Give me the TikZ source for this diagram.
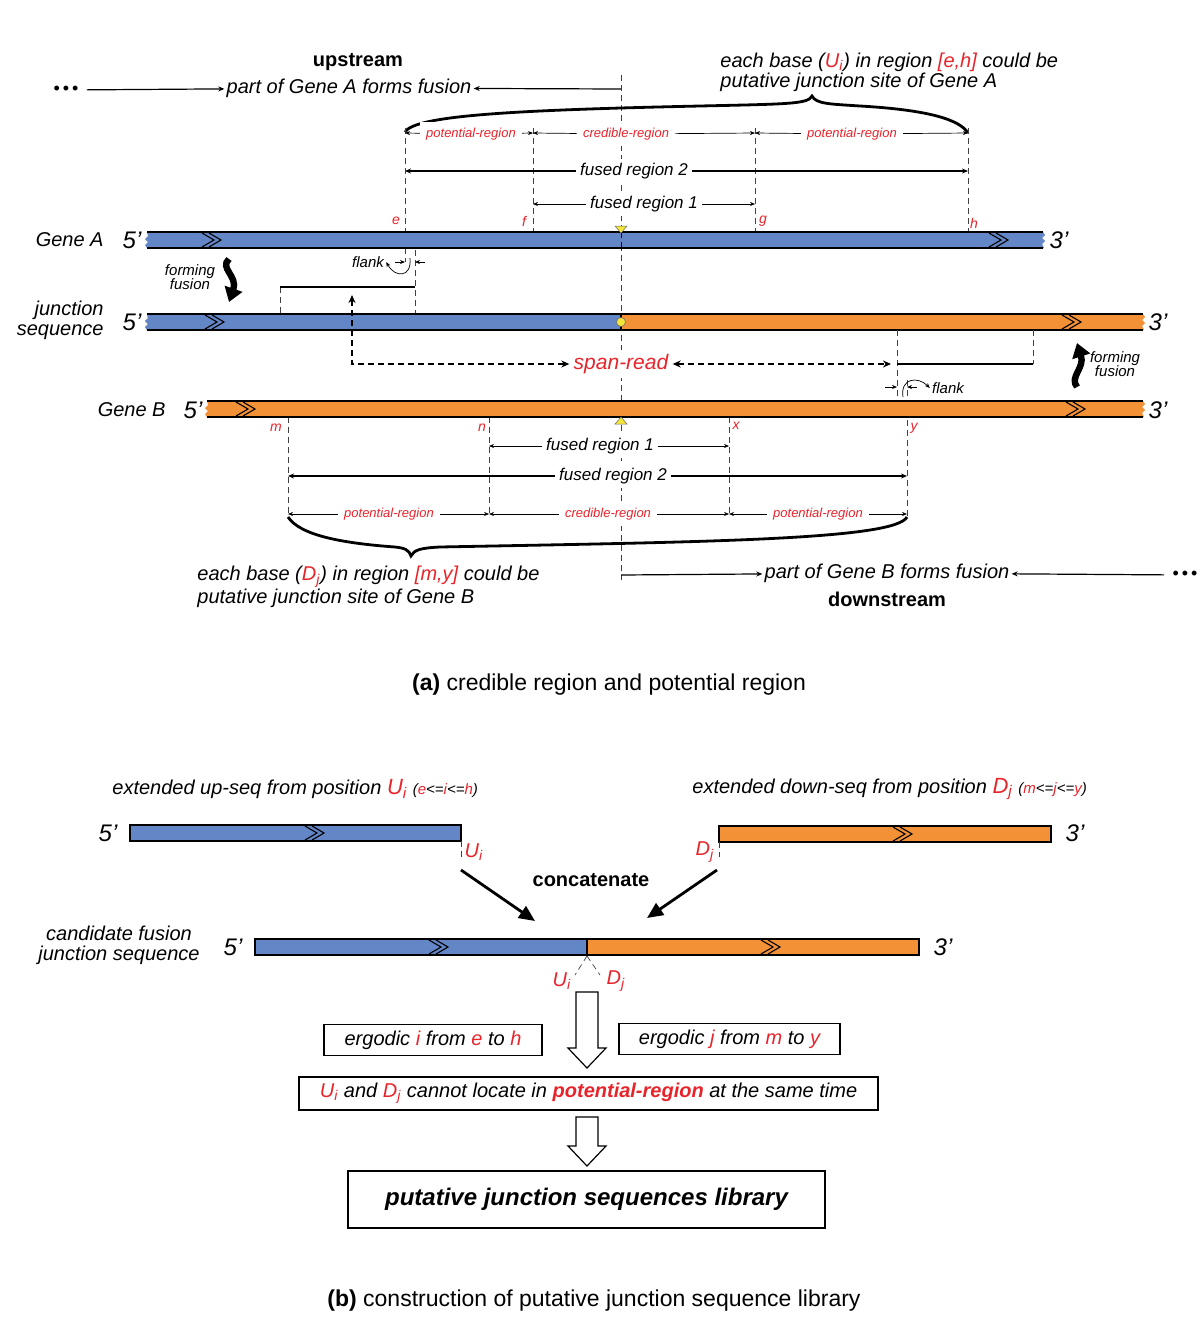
\documentclass[tikz,border=0pt]{standalone}
\usepackage{fontspec}
\setmainfont{Liberation Sans}
\usetikzlibrary{arrows.meta,positioning}
\definecolor{geneA}{HTML}{6386C6}
\definecolor{geneB}{HTML}{F39137}
\definecolor{hot}{HTML}{E8242B}
\definecolor{siteyel}{HTML}{F4E53A}
\tikzset{>=Stealth}
\tikzset{
  txt/.style={font=\fontsize{10}{10}\selectfont\itshape, inner sep=1pt},
  boldtxt/.style={font=\fontsize{10}{10}\selectfont\bfseries, inner sep=1pt},
  captxt/.style={font=\fontsize{11.5}{12}\selectfont},
  endtxt/.style={font=\fontsize{12}{12}\selectfont\itshape, inner sep=0pt},
  smalltxt/.style={font=\fontsize{7.5}{7}\selectfont\itshape, inner sep=1pt, align=center},
  redtag/.style={font=\fontsize{7}{7}\selectfont\itshape, text=hot, inner sep=0pt},
  regtag/.style={font=\fontsize{6.5}{7}\selectfont\itshape, text=hot, fill=white, inner sep=3pt},
  fusetxt/.style={font=\fontsize{8.5}{9}\selectfont\itshape, fill=white, inner sep=2pt},
  spantxt/.style={font=\fontsize{10.5}{11}\selectfont\itshape, text=hot, fill=white, inner sep=2pt},
  dots/.style={font=\fontsize{9}{9}\selectfont, inner sep=4pt},
  guide/.style={dash pattern=on 3pt off 2pt, line width=0.35pt, black!75},
  dimarr/.style={-{Stealth[length=2.5pt,width=2pt]}, line width=0.35pt},
  fusearr/.style={-{Stealth[length=3pt,width=2.5pt]}, line width=0.7pt},
  textarr/.style={-{Stealth[length=3pt,width=2.5pt]}, line width=0.6pt},
  spanarr/.style={dash pattern=on 3pt off 2pt, line width=0.9pt,
    {Stealth[length=4pt,width=3.5pt]}-{Stealth[length=4pt,width=3.5pt]}},
  readbar/.style={line width=1.4pt},
  curly/.style={line width=1.4pt},
  hookarr/.style={-{Stealth[length=2.5pt,width=2pt]}, line width=0.35pt},
  formarr/.style={line width=3.2pt, -{Triangle[length=7pt,width=9pt]}},
  joinarr/.style={line width=1.4pt, -{Triangle[length=8pt,width=7pt]}},
  sitemark/.style={fill=siteyel, draw=black!60, line width=0.25pt},
  seqbox/.style={draw, line width=0.75pt, font=\fontsize{10}{10}\selectfont\itshape,
    inner sep=0pt, minimum height=15.5pt},
}
% gene bar: left, right, centre y, colour
\newcommand{\barfill}[4]{%
  \fill[#4] (#1,#3-8) -- (#2,#3-8) -- (#2+2,#3-5) -- (#2-1,#3-2) -- (#2+2,#3+1)
    -- (#2-1,#3+4) -- (#2+1,#3+8) -- (#1,#3+8) -- (#1-2,#3+5) -- (#1+1,#3+2)
    -- (#1-2,#3-1) -- (#1+1,#3-4) -- cycle;}
\newcommand{\barrims}[3]{\draw[line width=0.8pt] (#1,#3-8) -- (#2,#3-8) (#1,#3+8) -- (#2,#3+8);}
\newcommand{\chev}[2]{\draw[line width=0.55pt] (#1,#2-7) -- (#1+12,#2) -- (#1,#2+7)
  (#1+7,#2-7) -- (#1+19,#2) -- (#1+7,#2+7);}
\newcommand{\hollowdown}[3]{\draw[line width=0.6pt, fill=white] (#1-11,#2) -- (#1+11,#2)
  -- (#1+11,#3-20) -- (#1+19,#3-20) -- (#1,#3) -- (#1-19,#3-20) -- (#1-11,#3-20) -- cycle;}

\begin{document}
\begin{tikzpicture}[x=0.5pt,y=-0.5pt]
\useasboundingbox (0,0) rectangle (1200,1318);

%% (a) ---------------------------------------------------------------
% centre line first, labels sit on it
\draw[guide] (621,75) -- (621,580);

\node[boldtxt] (up) at (358,62) {upstream};
\node[dots] (dotsA) at (66,90) {•\,•\,•};
\node[txt] (partA) at (349,88) {part of Gene A forms fusion};
\coordinate (midtop) at (621,89);
\draw[textarr] (dotsA) -- (partA);
\draw[textarr] (midtop) -- (partA);

\node[txt, align=left, anchor=west] (baseA) at (718,72)
  {each base (\textcolor{hot}{U\textsubscript{i}}) in region \textcolor{hot}{[e,h]} could be\\putative junction site of Gene A};
\draw[curly] (405,132) .. controls (415,115) and (520,110) .. (700,106)
  .. controls (790,104) and (808,104) .. (812,96)
  .. controls (816,104) and (830,104) .. (860,106)
  .. controls (930,110) and (960,120) .. (968,133);

% guides gene A
\foreach \x/\ya/\yb in {405/128/262, 533/128/232, 755/128/232, 968/128/232, 415/250/315, 280/287/315}
  \draw[guide] (\x,\ya) -- (\x,\yb);
\foreach \n/\x in {e/405,f/533,g/755,h/968} {
  \coordinate (\n1) at (\x,133);
  \coordinate (\n2) at (\x,171);
  \coordinate (\n3) at (\x,204);
}
\node[regtag] (potA1) at (471,134) {potential-region};
\node[regtag] (creA) at (626,134) {credible-region};
\node[regtag] (potA2) at (852,134) {potential-region};
\draw[dimarr] (potA1) -- (e1);
\draw[dimarr] (potA1) -- (f1);
\draw[dimarr] (creA) -- (f1);
\draw[dimarr] (creA) -- (g1);
\draw[dimarr] (potA2) -- (g1);
\draw[dimarr] (potA2) -- (h1);
\node[fusetxt] (fr2A) at (634,171) {fused region 2};
\draw[fusearr] (fr2A) -- (e2);
\draw[fusearr] (fr2A) -- (h2);
\node[fusetxt] (fr1A) at (644,204) {fused region 1};
\draw[dimarr] (fr1A) -- (f3);
\draw[dimarr] (fr1A) -- (g3);
\node[redtag] (le) at (396,221) {e};
\node[redtag] (lf) at (524,221) {f};
\node[redtag] (lg) at (763,221) {g};
\node[redtag] (lh) at (974,223) {h};

% Gene A
\barfill{147}{1043}{240}{geneA}
\barrims{147}{1043}{240}
\draw[guide, black] (621,232) -- (621,248);
\chev{202}{240}
\chev{989}{240}
\node[txt, anchor=east] (genA) at (106,240) {Gene A};
\node[endtxt] (a5) at (132,240) {5’};
\node[endtxt] (a3) at (1059,240) {3’};

% flank (gene A side)
\coordinate (fl1) at (405,262);
\coordinate (fl2) at (415,262);
\draw[dimarr] ([xshift=-5pt]fl1) -- (fl1);
\draw[dimarr] ([xshift=5pt]fl2) -- (fl2);
\node[smalltxt] (flankA) at (368,262) {flank};
\draw[hookarr] (410,258) .. controls (412,278) and (395,278) .. (flankA.east);
\node[smalltxt] (formA) at (190,277) {forming\\fusion};
\draw[formarr] (229,259) .. controls (219,268) and (238,276) .. (229,302);

% read on gene A
\coordinate (rdL) at (280,287);
\coordinate (rdR) at (415,287);
\draw[readbar] (rdL) -- (rdR);

% junction sequence
\node[txt, anchor=east, align=right] (junc) at (106,320) {junction\\sequence};
\barfill{147}{1143}{322}{geneB}
\begin{scope}
  \clip (130,300) rectangle (621,345);
  \barfill{147}{1143}{322}{geneA}
\end{scope}
\barrims{147}{1143}{322}
\draw[line width=0.8pt] (621,314) -- (621,330);
\chev{205}{322}
\chev{1062}{322}
\node[endtxt] (j5) at (132,322) {5’};
\node[endtxt] (j3) at (1158,322) {3’};

% span read
\foreach \x/\ya/\yb in {897/330/400, 1033/330/364, 907/380/518, 288/417/518, 489/417/514, 729/417/514}
  \draw[guide] (\x,\ya) -- (\x,\yb);
\node[spantxt] (span) at (621,364) {span-read};
\coordinate (spLtop) at (352,295);
\coordinate (spL) at (352,364);
\coordinate (spR) at (891,364);
\draw[spanarr] (spLtop) -- (spL) -- (span);
\draw[spanarr] (span) -- (spR);
\coordinate (rd2L) at (897,364);
\coordinate (rd2R) at (1033,364);
\draw[readbar] (rd2L) -- (rd2R);

% flank (gene B side)
\coordinate (fl3) at (897,387);
\coordinate (fl4) at (907,387);
\draw[dimarr] ([xshift=-6pt]fl3) -- (fl3);
\draw[dimarr] ([xshift=5pt]fl4) -- (fl4);
\node[smalltxt] (flankB) at (948,388) {flank};
\draw[hookarr] (903,397) .. controls (900,378) and (918,376) .. (flankB.west);
\node[smalltxt] (formB) at (1115,364) {forming\\fusion};
\draw[formarr] (1077,387) .. controls (1069,377) and (1085,368) .. (1077,343);

% Gene B
\barfill{207}{1143}{409}{geneB}
\barrims{207}{1143}{409}
\chev{236}{409}
\chev{1066}{409}
\node[txt, anchor=east] (genB) at (168,410) {Gene B};
\node[endtxt] (b5) at (193,410) {5’};
\node[endtxt] (b3) at (1158,410) {3’};

% marks on the junction site
\fill[sitemark] (615,226) -- (627,226) -- (621,233) -- cycle;
\fill[sitemark] (615,424) -- (627,424) -- (621,417) -- cycle;
\node[circle, sitemark, inner sep=0pt, minimum size=4.5pt] (jpt) at (621,322) {};

% regions gene B
\foreach \n/\x in {m/288,n/489,x/729,y/907} {
  \coordinate (\n1) at (\x,446);
  \coordinate (\n2) at (\x,476);
  \coordinate (\n3) at (\x,514);
}
\node[redtag] (lm) at (276,428) {m};
\node[redtag] (ln) at (482,428) {n};
\node[redtag] (lx) at (736,426) {x};
\node[redtag] (ly) at (914,428) {y};
\node[fusetxt] (fr1B) at (600,446) {fused region 1};
\draw[dimarr] (fr1B) -- (n1);
\draw[dimarr] (fr1B) -- (x1);
\node[fusetxt] (fr2B) at (613,476) {fused region 2};
\draw[fusearr] (fr2B) -- (m2);
\draw[fusearr] (fr2B) -- (y2);
\node[regtag] (potB1) at (389,514) {potential-region};
\node[regtag] (creB) at (608,514) {credible-region};
\node[regtag] (potB2) at (818,514) {potential-region};
\draw[dimarr] (potB1) -- (m3);
\draw[dimarr] (potB1) -- (n3);
\draw[dimarr] (creB) -- (n3);
\draw[dimarr] (creB) -- (x3);
\draw[dimarr] (potB2) -- (x3);
\draw[dimarr] (potB2) -- (y3);
\draw[curly] (288,517) .. controls (300,535) and (340,543) .. (395,547)
  .. controls (405,548) and (409,550) .. (411,556)
  .. controls (414,550) and (420,548) .. (440,547)
  .. controls (700,542) and (895,540) .. (907,517);
\node[txt, align=left, anchor=west] (baseB) at (195,587)
  {each base (\textcolor{hot}{D\textsubscript{j}}) in region \textcolor{hot}{[m,y]} could be\\putative junction site of Gene B};

\node[txt] (partB) at (887,573) {part of Gene B forms fusion};
\coordinate (midbot) at (621,575);
\node[dots] (dotsB) at (1185,575) {•\,•\,•};
\draw[textarr] (midbot) -- (partB);
\draw[textarr] (dotsB) -- (partB);
\node[boldtxt] (down) at (887,599) {downstream};

\node[captxt] (capA) at (609,685) {\textbf{(a)} credible region and potential region};

%% (b) ---------------------------------------------------------------
\node[txt, anchor=west] (upseq) at (110,789) {extended up-seq from position
  \textcolor{hot}{\fontsize{11}{11}\selectfont U\textsubscript{i}}
  {\fontsize{7.5}{7.5}\selectfont(\textcolor{hot}{e}<=\textcolor{hot}{i}<=\textcolor{hot}{h})}};
\node[txt, anchor=west] (downseq) at (690,789) {extended down-seq from position
  \textcolor{hot}{\fontsize{11}{11}\selectfont D\textsubscript{j}}
  {\fontsize{7.5}{7.5}\selectfont(\textcolor{hot}{m}<=\textcolor{hot}{j}<=\textcolor{hot}{y})}};

\filldraw[fill=geneA, line width=0.8pt] (130,825) rectangle (461,841);
\chev{305}{833}
\node[endtxt] (u5) at (108,833) {5’};
\filldraw[fill=geneB, line width=0.8pt] (719,826) rectangle (1051,842);
\chev{893}{834}
\node[endtxt] (d3) at (1075,833) {3’};

\coordinate (Uend) at (461,841);
\coordinate (Dend) at (719,842);
\draw[guide] (Uend) -- (461,857);
\draw[guide] (Dend) -- (719,857);
\node[txt, text=hot] (Ui) at (474,852) {U\textsubscript{i}};
\node[txt, text=hot] (Dj) at (705,852) {D\textsubscript{j}};
\node[boldtxt] (concat) at (591,880) {concatenate};
\coordinate (Ustart) at (461,870);
\coordinate (Dstart) at (717,870);
\coordinate (inA) at (535,921);
\coordinate (inB) at (647,918);
\draw[joinarr] (Ustart) -- (inA);
\draw[joinarr] (Dstart) -- (inB);

\node[txt, align=center] (cand) at (119,945) {candidate fusion\\junction sequence};
\filldraw[fill=geneA, line width=0.8pt] (255,939) rectangle (587,955);
\filldraw[fill=geneB, line width=0.8pt] (587,939) rectangle (919,955);
\chev{429}{947}
\chev{761}{947}
\node[endtxt] (c5) at (233,947) {5’};
\node[endtxt] (c3) at (943,947) {3’};
\coordinate (cut) at (587,956);
\draw[guide] (cut) -- (575,975);
\draw[guide] (cut) -- (600,975);
\node[txt, text=hot] (Ui2) at (562,981) {U\textsubscript{i}};
\node[txt, text=hot] (Dj2) at (616,981) {D\textsubscript{j}};

\hollowdown{587}{992}{1068}
\node[seqbox, minimum width=109pt] (ergI) at (433,1040)
  {ergodic \textcolor{hot}{i} from \textcolor{hot}{e} to \textcolor{hot}{h}};
\node[seqbox, minimum width=110.5pt] (ergJ) at (729.5,1039)
  {ergodic \textcolor{hot}{j} from \textcolor{hot}{m} to \textcolor{hot}{y}};
\node[seqbox, minimum width=289.5pt, minimum height=16.5pt] (rule) at (588.5,1093.5)
  {\textcolor{hot}{U\textsubscript{i}} and \textcolor{hot}{D\textsubscript{j}} cannot locate in
   \textcolor{hot}{\bfseries potential-region} at the same time};
\hollowdown{587}{1117}{1166}
\node[seqbox, minimum width=238.5pt, minimum height=28.5pt,
  font=\fontsize{12}{12}\selectfont\bfseries\itshape] (lib) at (586.5,1199.5)
  {putative junction sequences library};

\node[captxt] (capB) at (594,1301) {\textbf{(b)} construction of putative junction sequence library};
\end{tikzpicture}
\end{document}
